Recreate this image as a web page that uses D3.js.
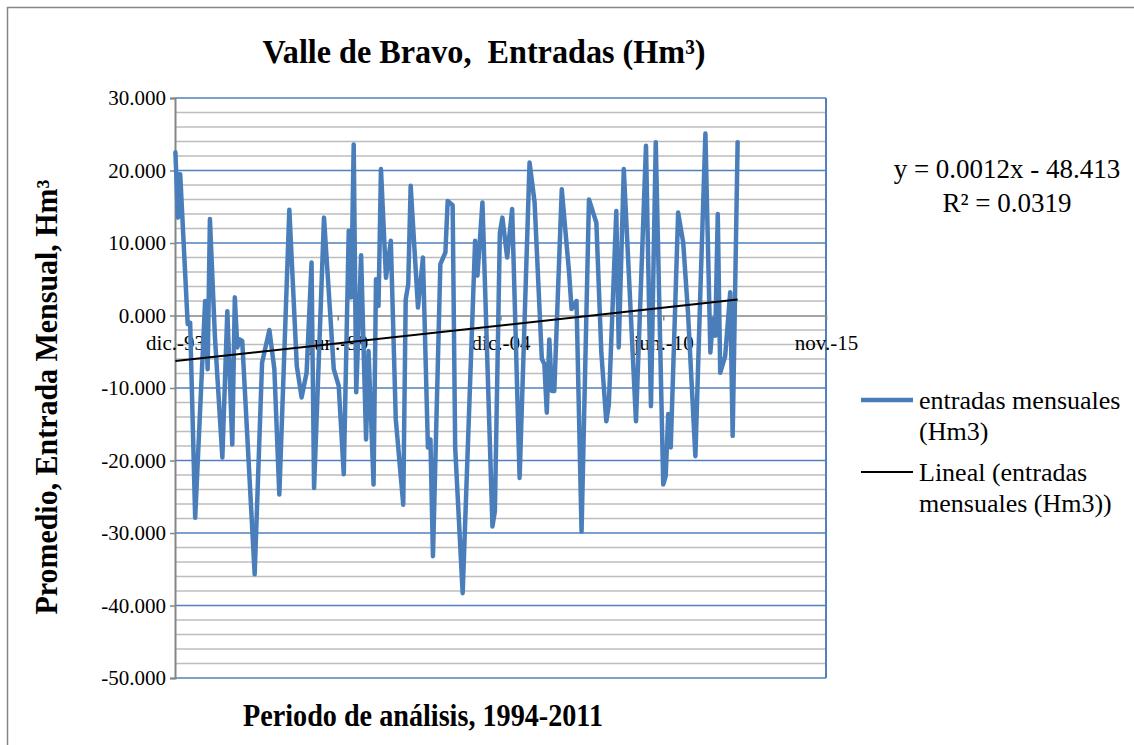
<!DOCTYPE html>
<html>
<head>
  <meta charset="utf-8">
  <title>Valle de Bravo, Entradas</title>
  <script src="https://d3js.org/d3.v7.min.js"></script>
  <style>
    body {
      margin: 0;
      background: #fff;
    }
    svg text {
      font-family: "Liberation Serif", "Times New Roman", serif;
      fill: #000;
    }
  </style>
</head>
<body>

  <div id="chart"></div>

  <script>
    // vertices visibles de la serie mensual
    let fechas = [
      '1994-01', '1994-02', '1994-03', '1994-06', '1994-07', '1994-09', '1995-01', '1995-02', '1995-03', '1995-05',
      '1995-08', '1995-10', '1995-12', '1996-01', '1996-02', '1996-03', '1996-04', '1996-09', '1996-12', '1997-03',
      '1997-05', '1997-07', '1997-11', '1998-02', '1998-04', '1998-06', '1998-08', '1998-09', '1999-01', '1999-05',
      '1999-07', '1999-09', '1999-11', '1999-12', '2000-01', '2000-02', '2000-04', '2000-06', '2000-07', '2000-09',
      '2000-10', '2000-11', '2000-12', '2001-02', '2001-04', '2001-06', '2001-09', '2001-10', '2001-11', '2001-12',
      '2002-03', '2002-05', '2002-07', '2002-08', '2002-09', '2002-12', '2003-02', '2003-03', '2003-05', '2003-06',
      '2003-09', '2004-02', '2004-03', '2004-05', '2004-09', '2004-10', '2004-12', '2005-01', '2005-03', '2005-05',
      '2005-08', '2005-12', '2006-02', '2006-05', '2006-06', '2006-07', '2006-08', '2006-09', '2006-10', '2007-01',
      '2007-04', '2007-05', '2007-07', '2007-09', '2007-12', '2008-03', '2008-05', '2008-07', '2008-08', '2008-11',
      '2008-12', '2009-02', '2009-05', '2009-07', '2009-11', '2010-01', '2010-03', '2010-06', '2010-07', '2010-08',
      '2010-09', '2010-12', '2011-02', '2011-04', '2011-07', '2011-09', '2011-11', '2012-01', '2012-02', '2012-03',
      '2012-04', '2012-05', '2012-07', '2012-09', '2012-10', '2012-12'
    ];
    let entradas = [
      22.5, 13.5, 19.5, -1.2, -1.0, -27.9, 2.0, -7.4, 13.3, -2.8,
      -19.6, 0.6, -17.8, 2.5, -4.4, -3.3, -3.5, -35.7, -6.5, -2.0,
      -7.4, -24.7, 14.6, -7.0, -11.3, -7.9, 7.3, -23.8, 13.5, -7.4,
      -9.7, -21.9, 11.7, 2.5, 23.6, -10.6, 8.3, -17.1, -4.9, -23.3,
      5.0, 1.3, 20.2, 5.2, 10.3, -14.3, -26.1, 2.2, 4.3, 17.9,
      1.1, 8.0, -18.2, -17.1, -33.2, 7.1, 8.7, 15.8, 15.2, -18.2,
      -38.3, 10.3, 5.5, 15.6, -29.1, -27.0, 11.4, 13.5, 8.0, 14.7,
      -22.4, 21.1, 15.6, -6.0, -6.7, -13.4, -3.3, -10.4, -10.4, 17.4,
      5.9, 0.9, 2.0, -29.8, 16.0, 12.8, -5.1, -14.6, -12.3, 14.4,
      -4.4, 20.2, -0.5, -14.6, 23.4, -12.5, 23.9, -23.3, -22.2, -13.6,
      -18.2, 14.2, 10.1, 0.4, -19.4, 3.6, 25.1, -5.1, -0.5, -2.8,
      14.0, -7.9, -5.6, 3.2, -16.6, 23.9
    ];

    let yTicks = [30, 20, 10, 0, -10, -20, -30, -40, -50];
    let xTickDias = [0, 2000, 4000, 6000, 8000];
    let meses = ['ene.', 'feb.', 'mar.', 'abr.', 'may.', 'jun.', 'jul.', 'ago.', 'sep.', 'oct.', 'nov.', 'dic.'];

    // tendencia lineal (x = numero de serie de fecha de Excel)
    let trendSlope = 0.001227;
    let trendIntercept = -48.413;
    let ecuacion = ['y = 0.0012x - 48.413', 'R\u00b2 = 0.0319'];

    let width = 1134;
    let height = 745;
    let plot = { left: 175, right: 826, top: 98, bottom: 678 };

    let parseMes = d3.timeParse('%Y-%m');
    let serie = fechas.map((f, i) => ({ fecha: parseMes(f), valor: entradas[i] }));

    let excelBase = new Date(1899, 11, 30);
    let toSerial = d => (d - excelBase) / 864e5;

    let xStart = new Date(1993, 11, 27);
    let xEnd = d3.timeDay.offset(xStart, 8000);

    let x = d3.scaleTime()
      .domain([xStart, xEnd])
      .range([plot.left, plot.right]);

    let y = d3.scaleLinear()
      .domain([-50, 30])
      .range([plot.bottom, plot.top]);

    // formato con guion normal, como en Excel
    let fmtY = d => d3.format('.3f')(d).replace('\u2212', '-');

    let svg = d3.select('#chart')
      .append('svg')
      .attr('width', width)
      .attr('height', height);

    svg.append('rect')
      .attr('width', width)
      .attr('height', height)
      .attr('fill', '#fff');

    // marco exterior
    svg.append('rect')
      .attr('x', 7.5)
      .attr('y', 7.5)
      .attr('width', width + 10)
      .attr('height', height + 10)
      .attr('fill', 'none')
      .attr('stroke', '#868686')
      .attr('stroke-width', 1.5);

    // lineas de division secundarias
    let minor = d3.range(-48, 30, 2).filter(v => v % 10 !== 0);
    svg.append('g')
      .selectAll('line')
      .data(minor)
      .enter()
      .append('line')
      .attr('x1', plot.left)
      .attr('x2', plot.right)
      .attr('y1', d => y(d))
      .attr('y2', d => y(d))
      .attr('stroke', '#bdbdbd')
      .attr('stroke-width', 1.6);

    // lineas de division principales
    svg.append('g')
      .selectAll('line')
      .data(yTicks.filter(v => v !== 0))
      .enter()
      .append('line')
      .attr('x1', plot.left)
      .attr('x2', plot.right)
      .attr('y1', d => y(d))
      .attr('y2', d => y(d))
      .attr('stroke', '#4f81bd')
      .attr('stroke-width', 1.6);

    svg.append('line')
      .attr('x1', plot.right)
      .attr('x2', plot.right)
      .attr('y1', plot.top)
      .attr('y2', plot.bottom)
      .attr('stroke', '#4f81bd')
      .attr('stroke-width', 2);

    // eje y
    let yAxis = svg.append('g')
      .attr('transform', 'translate(' + plot.left + ',0)')
      .call(d3.axisLeft(y).tickValues(yTicks).tickSize(5).tickPadding(4).tickFormat(fmtY));
    yAxis.attr('font-family', null);
    yAxis.select('.domain').attr('stroke', '#868686').attr('stroke-width', 2);
    yAxis.selectAll('.tick line').attr('stroke', '#868686').attr('stroke-width', 1.5);
    yAxis.selectAll('.tick text')
      .style('font-size', '21px')
      .attr('fill', '#000');

    // eje x (cruza en 0)
    let xAxis = svg.append('g')
      .attr('transform', 'translate(0,' + y(0) + ')')
      .call(d3.axisBottom(x)
        .tickValues(xTickDias.map(d => d3.timeDay.offset(xStart, d)))
        .tickSize(5)
        .tickSizeOuter(0)
        .tickFormat(d => meses[d.getMonth()] + '-' + d3.timeFormat('%y')(d)));
    xAxis.attr('font-family', null);
    xAxis.select('.domain').attr('stroke', '#868686').attr('stroke-width', 1.6);
    xAxis.selectAll('.tick line').attr('stroke', '#868686').attr('stroke-width', 1.5);
    xAxis.selectAll('.tick text')
      .attr('y', 34)
      .attr('dy', 0)
      .style('font-size', '21px')
      .attr('fill', '#000');

    // serie
    let line = d3.line()
      .x(d => x(d.fecha))
      .y(d => y(d.valor));

    svg.append('path')
      .datum(serie)
      .attr('d', line)
      .attr('fill', 'none')
      .attr('stroke', '#4a7ebb')
      .attr('stroke-width', 4.5)
      .attr('stroke-linejoin', 'round')
      .attr('stroke-linecap', 'round');

    // tendencia
    let trend = [serie[0].fecha, serie[serie.length - 1].fecha]
      .map(f => ({ fecha: f, valor: trendSlope * toSerial(f) + trendIntercept }));

    svg.append('path')
      .datum(trend)
      .attr('d', line)
      .attr('fill', 'none')
      .attr('stroke', '#000')
      .attr('stroke-width', 2);

    // titulos
    svg.append('text')
      .attr('x', 484)
      .attr('y', 63)
      .attr('text-anchor', 'middle')
      .attr('textLength', 443)
      .attr('lengthAdjust', 'spacingAndGlyphs')
      .style('font-size', '33px')
      .style('font-weight', 'bold')
      .text('Valle de Bravo,\u00a0 Entradas (Hm\u00b3)');

    svg.append('text')
      .attr('transform', 'translate(57,397) rotate(-90)')
      .attr('text-anchor', 'middle')
      .attr('textLength', 435)
      .attr('lengthAdjust', 'spacingAndGlyphs')
      .style('font-size', '31px')
      .style('font-weight', 'bold')
      .text('Promedio, Entrada Mensual, Hm\u00b3');

    svg.append('text')
      .attr('x', 423)
      .attr('y', 726)
      .attr('text-anchor', 'middle')
      .attr('textLength', 360)
      .attr('lengthAdjust', 'spacingAndGlyphs')
      .style('font-size', '31px')
      .style('font-weight', 'bold')
      .text('Periodo de an\u00e1lisis, 1994-2011');

    // ecuacion de la tendencia
    svg.selectAll('.eq')
      .data(ecuacion)
      .enter()
      .append('text')
      .attr('class', 'eq')
      .attr('x', 1007)
      .attr('y', (d, i) => 178 + i * 34)
      .attr('text-anchor', 'middle')
      .style('font-size', '27px')
      .text(d => d);

    // leyenda
    let legend = [
      { lines: ['entradas mensuales', '(Hm3)'], color: '#4a7ebb', w: 4.5, y: 400 },
      { lines: ['Lineal (entradas', 'mensuales (Hm3))'], color: '#000', w: 2, y: 472 }
    ];

    let lg = svg.selectAll('.legend')
      .data(legend)
      .enter()
      .append('g')
      .attr('class', 'legend');

    lg.append('line')
      .attr('x1', 861)
      .attr('x2', 913)
      .attr('y1', d => d.y)
      .attr('y2', d => d.y)
      .attr('stroke', d => d.color)
      .attr('stroke-width', d => d.w);

    lg.each(function(d) {
      let t = d3.select(this).append('text')
        .attr('x', 919)
        .attr('y', d.y + 9)
        .style('font-size', '26px');
      t.selectAll('tspan')
        .data(d.lines)
        .enter()
        .append('tspan')
        .attr('x', 919)
        .attr('dy', (s, i) => i === 0 ? 0 : 31)
        .text(s => s);
    });
  </script>
</body>
</html>
